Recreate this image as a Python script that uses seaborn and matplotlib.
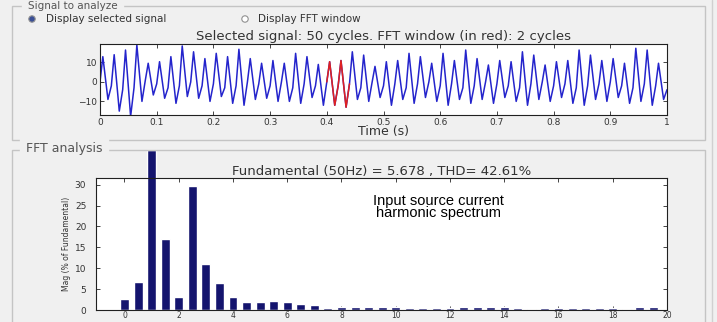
# recreate the powergui FFT analysis screenshot
import numpy as np
import pandas as pd
import seaborn as sns
import matplotlib.pyplot as plt
from matplotlib.patches import Rectangle, Circle
from matplotlib.lines import Line2D

# selected signal, read per cycle (50 cycles in 1 s)
cycle_start = [0, -2, -4, -3, 1, -1, -3, -2, 0, -2, -1, -3, -2, 0, -1, -2, 0,
               -3, -1, -2, 0, -2, -1, -3, 0, -2, -1, -3, -1, 0, -2, -1, -3,
               -2, 0, -1, -2, -3, -1, 0, -2, -1, -3, -2, -1, 0, -2, -3, -1, -2]
cycle_peak = [13, 14, 16.4, 19, 9.6, 10.4, 13, 18.5, 15.5, 12, 14.7, 13, 16.8,
              12, 9.6, 11, 9.6, 14.7, 13, 9, 10.4, 11, 15.5, 13.8, 8, 10.4,
              11, 14.7, 13, 9.6, 14.7, 11, 16.4, 12, 8.7, 11, 10.4, 15.5,
              13.8, 8.7, 10.4, 11, 16.4, 13.8, 11, 12, 9.6, 17.3, 16.4, 9.6]
cycle_trough = [-9, -15, -17.7, -10, -6.7, -8.4, -11, -7.5, -8.4, -10, -7.5,
                -11, -12, -9, -8.4, -10, -10, -11, -8, -12, -12, -13, -9, -10,
                -8, -12, -9, -11, -8, -10, -12, -9, -11, -9, -11, -8, -10,
                -12, -9, -10, -8, -11, -12, -9, -10, -8, -11, -10, -12, -9]
signal_end = -4
fft_window = (0.4, 0.44)

# FFT bars (% of fundamental), harmonic order in steps of 0.5
harmonic_order = np.arange(0, 20, 0.5)
harmonic_mag = [2.6, 6.6, 38.3, 16.9, 3.2, 29.8, 10.9, 6.5, 3.2, 1.8,
                1.8, 2.1, 1.9, 1.5, 1.3, 0.45, 0.8, 0.8, 0.8, 0.8,
                0.75, 0.4, 0.4, 0.4, 0.4, 0.6, 0.6, 0.6, 0.7, 0.4,
                0.3, 0.4, 0.5, 0.5, 0.5, 0.4, 0.4, 0.3, 0.6, 0.6]

sns.set_theme(style="white")
plt.rcParams['font.family'] = ['DejaVu Sans']
txt = '#333333'
bg = '#f0f0f0'
W, H = 717, 322

t, y = [], []
for k in range(len(cycle_peak)):
    t0 = k / 50
    t += [t0, t0 + 0.005, t0 + 0.014]
    y += [cycle_start[k], cycle_peak[k], cycle_trough[k]]
t.append(1.0)
y.append(signal_end)
sig = pd.DataFrame({"t": t, "i": y})
win = sig[(sig.t >= fft_window[0] - 1e-9) & (sig.t <= fft_window[1] + 1e-9)]

fft = pd.DataFrame({"order": harmonic_order, "mag": harmonic_mag})

fig = plt.figure(figsize=(W / 100, H / 100), dpi=100, facecolor=bg)

def box(x0, y0, x1, y1):
    # pixel coords (top-left origin) -> figure fraction
    return [x0 / W, 1 - y1 / H, (x1 - x0) / W, (y1 - y0) / H]

def px(x, y):
    return x / W, 1 - y / H

# group boxes
for (x0, y0, x1, y1) in [(12, 6, 705, 140), (12, 150, 705, 330)]:
    fig.add_artist(Rectangle(px(x0, y1), (x1 - x0) / W, (y1 - y0) / H,
                             transform=fig.transFigure, fill=False,
                             edgecolor='#c4c4c4', lw=1))
fig.add_artist(Line2D([712 / W, 712 / W], [0, 1], transform=fig.transFigure,
                      color='#d0d0d0', lw=1))
fig.text(*px(28, 6), "Signal to analyze", fontsize=7.5, color='#555555',
         va='center', backgroundcolor=bg)
fig.text(*px(26, 149), "FFT analysis", fontsize=9, color='#555555',
         va='center', backgroundcolor=bg)

# radio buttons (drawn in pixel space)
for rx, face in [(32, '#3a4f96'), (245, 'white')]:
    fig.add_artist(Circle((rx, H - 19), 3.2, transform=None, facecolor=face,
                          edgecolor='#909090', lw=0.8, zorder=5))
fig.text(*px(46, 19), "Display selected signal", fontsize=7.5, color=txt,
         va='center')
fig.text(*px(258, 19), "Display FFT window", fontsize=7.5, color=txt,
         va='center')

# selected signal
ax1 = fig.add_axes(box(100, 44, 667, 115))
sns.lineplot(data=sig, x="t", y="i", color='#2424cc', lw=1.1, ax=ax1,
             estimator=None, sort=False)
sns.lineplot(data=win, x="t", y="i", color='#e02020', lw=1.1, ax=ax1,
             estimator=None, sort=False)
ax1.set_xlim(0, 1)
ax1.set_ylim(-17, 19.5)
ax1.set_xticks(np.arange(0, 1.01, 0.1))
ax1.set_xticklabels(["0", "0.1", "0.2", "0.3", "0.4", "0.5", "0.6", "0.7",
                     "0.8", "0.9", "1"])
ax1.set_yticks([-10, 0, 10])
ax1.set_xlabel("Time (s)", fontsize=9, color=txt, labelpad=-1)
ax1.set_ylabel("")
ax1.set_title("Selected signal: 50 cycles. FFT window (in red): 2 cycles",
              fontsize=9.5, color=txt, pad=3)

# FFT bars
ax2 = fig.add_axes(box(96, 178, 667, 310))
sns.barplot(data=fft, x="order", y="mag", native_scale=True, orient='x',
            color='#14146e', saturation=1, width=0.66, errorbar=None, ax=ax2)
for p in ax2.patches:
    p.set_clip_on(False)
ax2.set_xlim(-1.05, 20)
ax2.set_ylim(0, 31.6)
ax2.set_xticks(range(0, 21, 2))
ax2.set_yticks(range(0, 31, 5))
ax2.set_xlabel("")
ax2.set_ylabel("Mag (% of Fundamental)", fontsize=5.5, color=txt, labelpad=3)
ax2.set_title("Fundamental (50Hz) = 5.678 , THD= 42.61%", fontsize=9.5,
              color=txt, pad=2)

for ax in (ax1, ax2):
    ax.set_facecolor('white')
    for s in ax.spines.values():
        s.set_color('#202020')
        s.set_linewidth(0.8)
    ax.tick_params(direction='in', top=True, right=True, length=3, width=0.6,
                   labelsize=6.5, labelcolor=txt, pad=2,
                   bottom=True, left=True)
ax2.tick_params(axis='y', pad=7)
ax2.tick_params(axis='x', pad=1, labelsize=5.5)

fig.text(*px(438, 207), "Input source current\nharmonic spectrum",
         fontsize=10.5, family='Liberation Sans', color='black',
         ha='center', va='center', linespacing=0.85)

fig.savefig("out.png", dpi=100, facecolor=fig.get_facecolor())
